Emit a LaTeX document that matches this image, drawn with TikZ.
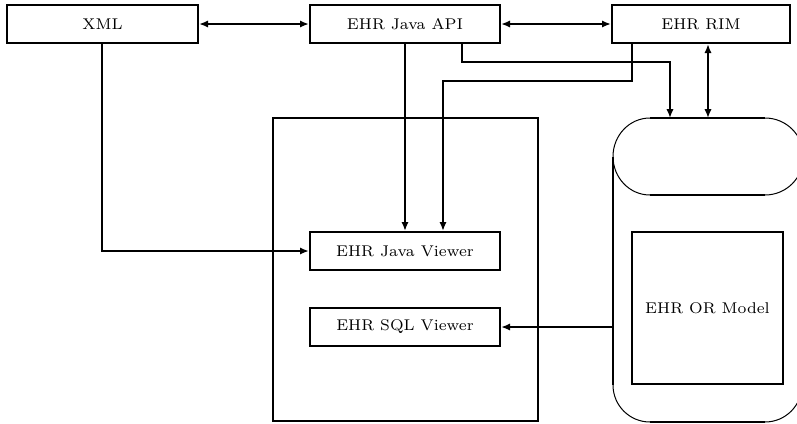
\documentclass[tikz,border=0pt]{standalone}
\usetikzlibrary{arrows.meta,calc}
\begin{document}
\begin{tikzpicture}[x=0.45pt,y=-0.45pt,
  box/.style={draw,line width=1pt,inner sep=0pt,font=\fontsize{7}{8}\selectfont},
  conn/.style={line width=1pt},
  arr/.style={conn,-{Latex[length=4pt,width=3.3pt]}},
  biarr/.style={conn,{Latex[length=4pt,width=3.3pt]}-{Latex[length=4pt,width=3.3pt]}},
  wall/.style={line width=1pt},
  curve/.style={line width=0.45pt}]
\useasboundingbox (0,0) rectangle (797,423);
\clip (0,0) rectangle (797,423);

% top row
\node[box,minimum width=191*0.45pt,minimum height=38*0.45pt] (xml) at (102.5,24) {XML};
\node[box,minimum width=190*0.45pt,minimum height=38*0.45pt] (api) at (405,24) {EHR Java API};
\node[box,minimum width=178*0.45pt,minimum height=38*0.45pt] (rim) at (701,24) {EHR RIM};

% viewer container
\draw[wall] (273,118) rectangle (538,421);
\node[box,minimum width=190*0.45pt,minimum height=38*0.45pt] (jv) at (405,251) {EHR Java Viewer};
\node[box,minimum width=190*0.45pt,minimum height=38*0.45pt] (sql) at (405,327) {EHR SQL Viewer};

% database
\coordinate (dbtop) at (650,118);
\coordinate (dbleft) at (613,157);
\draw[wall] (650,118) -- (765,118);
\draw[wall] (650,195) -- (765,195);
\draw[curve] (650,118) to[out=180,in=90] (613,156.5) to[out=270,in=180] (650,195);
\draw[curve] (765,118) to[out=0,in=90] (803.5,156.5) to[out=270,in=0] (765,195);
\draw[wall] (dbleft) -- (613,385);
\draw[curve] (613,385) to[out=270,in=180] (650,422);
\draw[wall] (650,422) -- (765,422);
\draw[curve] (765,422) to[out=0,in=270] (802,385);
\node[box,minimum width=151*0.45pt,minimum height=152*0.45pt] (orm) at (707.5,308) {EHR OR Model};

% connectors
\draw[biarr] (xml) -- (api);
\draw[biarr] (api) -- (rim);
\draw[arr] ([xshift=-0.5*0.45pt]xml.south) |- (jv.west);
\draw[arr] (api.south) -- (jv.north);
\draw[arr] ([xshift=21*0.45pt]rim.south west) -- ++(0,37) -| ([xshift=38*0.45pt]jv.north);
\draw[arr] ([xshift=57*0.45pt]api.south) -- ++(0,18) -| (670,118);
\draw[biarr] ([xshift=7*0.45pt]rim.south) -- (708,118);
\draw[arr] (613,327) -- (sql.east);
\end{tikzpicture}
\end{document}
